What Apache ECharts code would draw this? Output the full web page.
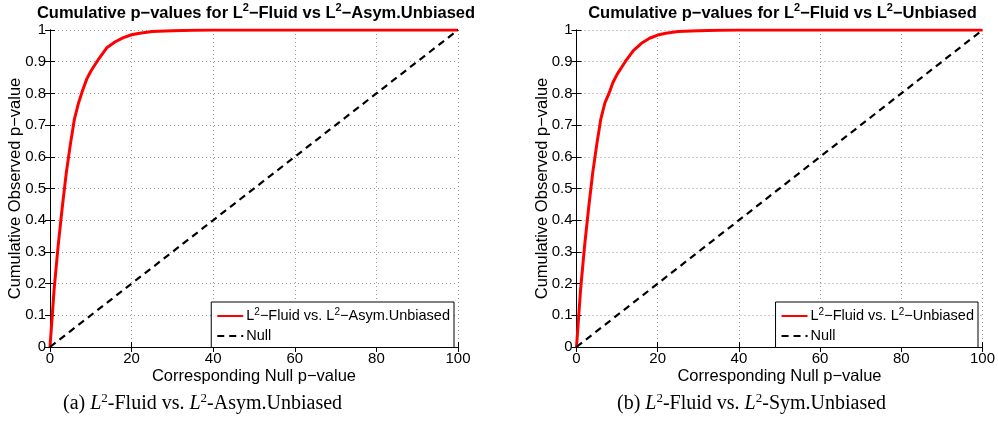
<!DOCTYPE html>
<html>
<head>
<meta charset="utf-8">
<script src="https://cdn.jsdelivr.net/npm/echarts@6/dist/echarts.min.js"></script>
<style>html,body{margin:0;padding:0;background:#fff}#c{width:998px;height:429px}</style>
</head>
<body>
<div id="c"></div>
<script>
// ---- data ----
var nullPX = [0, 1, 2, 3, 4, 5, 6, 7, 8, 9, 10, 12, 14, 16, 18, 20, 22, 25, 30, 35, 40, 50, 60, 70, 80, 90, 100];
var obsAsym = [0, 0.18, 0.32, 0.44, 0.55, 0.64, 0.72, 0.77, 0.81, 0.845, 0.87, 0.91, 0.945, 0.963, 0.976, 0.985, 0.99, 0.995, 0.998, 0.999, 1, 1, 1, 1, 1, 1, 1];
var obsSym = [0, 0.18, 0.32, 0.44, 0.55, 0.64, 0.72, 0.77, 0.80, 0.835, 0.86, 0.90, 0.935, 0.958, 0.974, 0.984, 0.99, 0.995, 0.998, 0.999, 1, 1, 1, 1, 1, 1, 1];
var nullX = [0, 100];
var nullY = [0, 1];
var xTicks = [0, 20, 40, 60, 80, 100];
var yTicks = [0, 0.1, 0.2, 0.3, 0.4, 0.5, 0.6, 0.7, 0.8, 0.9, 1];
var seriesNames = ['L2-Fluid vs. L2-Asym.Unbiased', 'L2-Fluid vs. L2-Unbiased', 'Null'];
var titles = ['Asym.Unbiased', 'Unbiased'];
var captions = [['(a) ', 'Asym.Unbiased'], ['(b) ', 'Sym.Unbiased']];

var FONT = '"Liberation Sans", Arial, Helvetica, sans-serif';
var SERIF = '"Liberation Serif", "DejaVu Serif", serif';
var MINUS = '\u2212';

function pairs(xs, ys) { return xs.map(function (x, i) { return [x, ys[i]]; }); }

var grids = [
  { left: 50, top: 30, width: 408, height: 317 },
  { left: 576.5, top: 30, width: 408, height: 317 }
];

var supRich = {
  t: { fontFamily: FONT, fontSize: 14.5, color: '#000', lineHeight: 18 },
  s: { fontFamily: FONT, fontSize: 10, color: '#000', verticalAlign: 'top' }
};
var titleRich = {
  t: { fontFamily: FONT, fontSize: 16.5, fontWeight: 'bold', color: '#000', lineHeight: 22 },
  s: { fontFamily: FONT, fontSize: 11, fontWeight: 'bold', color: '#000', verticalAlign: 'top' }
};

function xAxes(gi) {
  return [{
    type: 'value', gridIndex: gi, min: 0, max: 100, interval: 20, position: 'bottom',
    name: 'Corresponding Null p' + MINUS + 'value', nameLocation: 'middle', nameGap: 21, nameMoveOverlap: false,
    nameTextStyle: { fontFamily: FONT, fontSize: 16.5, color: '#000' },
    axisLine: { lineStyle: { color: '#000', width: 1 } },
    axisTick: { inside: true, length: 5, lineStyle: { color: '#000' } },
    axisLabel: { fontFamily: FONT, fontSize: 15, color: '#000', margin: 4 },
    splitLine: { show: true, lineStyle: { color: '#999', type: [1, 3], width: 1 } }
  }, {
    type: 'value', gridIndex: gi, min: 0, max: 100, interval: 20, position: 'top',
    axisLine: { lineStyle: { color: '#000', width: 1 } },
    axisTick: { inside: true, length: 5, lineStyle: { color: '#000' } },
    axisLabel: { show: false }, splitLine: { show: false }
  }];
}
function yAxes(gi) {
  return [{
    type: 'value', gridIndex: gi, min: 0, max: 1, interval: 0.1, position: 'left',
    name: 'Cumulative Observed p' + MINUS + 'value', nameLocation: 'middle', nameGap: 26, nameMoveOverlap: false,
    nameTextStyle: { fontFamily: FONT, fontSize: 16.5, color: '#000' },
    axisLine: { lineStyle: { color: '#000', width: 1 } },
    axisTick: { inside: true, length: 5, lineStyle: { color: '#000' } },
    axisLabel: { fontFamily: FONT, fontSize: 15, color: '#000', margin: 4,
      formatter: function (v) { return String(Math.round(v * 10) / 10); } },
    splitLine: { show: true, lineStyle: { color: '#999', type: [1, 3], width: 1 } }
  }, {
    type: 'value', gridIndex: gi, min: 0, max: 1, interval: 0.1, position: 'right',
    axisLine: { lineStyle: { color: '#000', width: 1 } },
    axisTick: { inside: true, length: 5, lineStyle: { color: '#000' } },
    axisLabel: { show: false }, splitLine: { show: false }
  }];
}

function legendFmt(name) {
  if (name === 'Null') return '{t|Null}';
  var tail = name.replace('L2-Fluid vs. L2-', '');
  return '{t|L}{s|2}{t|' + MINUS + 'Fluid vs. L}{s|2}{t|' + MINUS + tail + '}';
}

function titleText(tail) {
  return '{t|Cumulative p' + MINUS + 'values for L}{s|2}{t|' + MINUS + 'Fluid vs L}{s|2}{t|' + MINUS + tail + '}';
}

var chart = echarts.init(document.getElementById('c'), null, { renderer: 'canvas' });
chart.setOption({
  animation: false,
  backgroundColor: '#fff',
  title: [0, 1].map(function (i) {
    return {
      text: titleText(titles[i]), left: grids[i].left + grids[i].width / 2, top: 0, textAlign: 'center',
      padding: 2, textStyle: { rich: titleRich }
    };
  }),
  legend: [
    { data: [seriesNames[0], 'Null'], right: 544, top: 302 },
    { data: [seriesNames[1], 'Null'], right: 20, top: 302 }
  ].map(function (l) {
    return Object.assign(l, {
      orient: 'vertical', itemWidth: 26, itemHeight: 14, itemGap: 5, padding: [5, 4, 4, 5],
      backgroundColor: '#fff', borderColor: '#000', borderWidth: 1, borderRadius: 0,
      itemStyle: { opacity: 0 },
      formatter: legendFmt, textStyle: { rich: supRich, padding: [0, 0, 0, -2] }, selectedMode: false
    });
  }),
  grid: grids,
  xAxis: xAxes(0).concat(xAxes(1)),
  yAxis: yAxes(0).concat(yAxes(1)),
  series: [
    { name: seriesNames[0], type: 'line', xAxisIndex: 0, yAxisIndex: 0, symbol: 'none', z: 3,
      data: pairs(nullPX, obsAsym), lineStyle: { color: '#ff0000', width: 3 }, itemStyle: { color: '#ff0000' } },
    { name: 'Null', type: 'line', xAxisIndex: 0, yAxisIndex: 0, symbol: 'none', z: 4,
      data: pairs(nullX, nullY), lineStyle: { color: '#000', width: 2.2, type: [7, 5] }, itemStyle: { color: '#000' } },
    { name: seriesNames[1], type: 'line', xAxisIndex: 2, yAxisIndex: 2, symbol: 'none', z: 3,
      data: pairs(nullPX, obsSym), lineStyle: { color: '#ff0000', width: 3 }, itemStyle: { color: '#ff0000' } },
    { name: 'Null', type: 'line', xAxisIndex: 2, yAxisIndex: 2, symbol: 'none', z: 4,
      data: pairs(nullX, nullY), lineStyle: { color: '#000', width: 2.2, type: [7, 5] }, itemStyle: { color: '#000' } }
  ],
  graphic: [0, 1].map(function (i) {
    var c = captions[i];
    return {
      type: 'text', left: i === 0 ? 63 : 617, top: 392,
      style: {
        text: '{n|' + c[0] + '}{i|L}{s|2}{n|-Fluid vs. }{i|L}{s|2}{n|-' + c[1] + '}',
        rich: {
          n: { fontFamily: SERIF, fontSize: 20, color: '#000', lineHeight: 24 },
          i: { fontFamily: SERIF, fontSize: 20, fontStyle: 'italic', color: '#000', lineHeight: 24 },
          s: { fontFamily: SERIF, fontSize: 13, color: '#000', verticalAlign: 'top' }
        }
      }
    };
  })
});
</script>
</body>
</html>
